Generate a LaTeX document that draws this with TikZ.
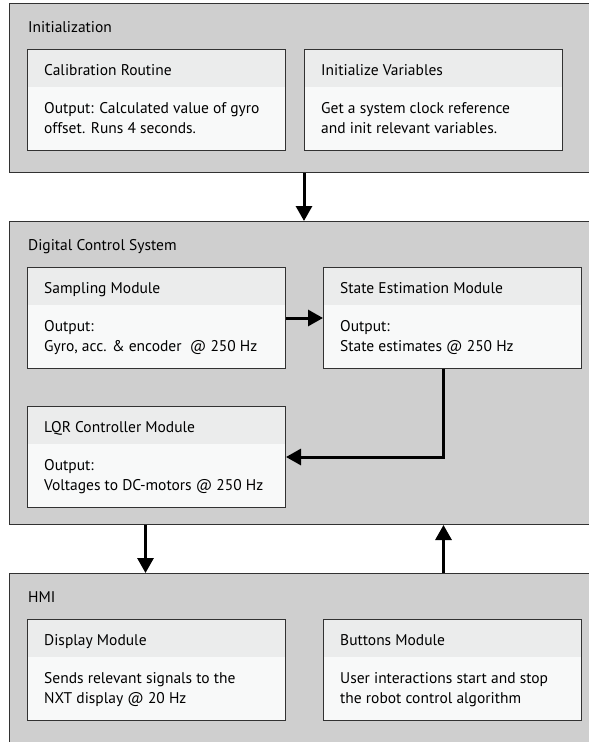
\documentclass[tikz,border=0pt]{standalone}
\usepackage{fontspec}
\setmainfont{PT Sans}
\usetikzlibrary{positioning,arrows.meta}
\definecolor{groupgray}{RGB}{207,207,207}
\definecolor{headgray}{RGB}{235,236,236}
\definecolor{bodygray}{RGB}{248,249,249}
\definecolor{framegray}{RGB}{50,50,50}
\begin{document}
\begin{tikzpicture}[x=1pt,y=1pt,>={Triangle[width=16pt,length=15pt]},
  group/.style={draw=framegray,line width=1pt,fill=groupgray,minimum width=600pt,inner sep=0pt},
  module/.style={draw=framegray,line width=1pt,fill=bodygray,minimum width=258pt,minimum height=101pt,inner sep=0pt,
    path picture={\fill[headgray] (path picture bounding box.north west) rectangle ([yshift=-37pt]path picture bounding box.north east);}},
  title/.style={anchor=base west,inner sep=0pt,font=\fontsize{15.5}{18}\selectfont},
  txt/.style={anchor=base west,inner sep=0pt,align=left,font=\fontsize{15.5}{20}\selectfont},
  flow/.style={->,line width=3pt}]
\useasboundingbox (0,0) rectangle (589,-742);

\node[group,anchor=north west,minimum height=169pt] (init) at (9,-3) {};
\node[group,below=48pt of init.south west,anchor=north west,minimum height=303pt] (dcs) {};
\node[group,below=48pt of dcs.south west,anchor=north west,minimum height=170pt] (hmi) {};

\node[title] (initT) at ([shift={(19,-29)}]init.north west) {Initialization};
\node[title] (dcsT) at ([shift={(19,-29)}]dcs.north west) {Digital Control System};
\node[title] (hmiT) at ([shift={(19,-29)}]hmi.north west) {HMI};

\node[module,below right=46pt and 18pt of init.north west] (calib) {};
\node[module,right=18pt of calib] (initvar) {};
\node[module,below right=46pt and 18pt of dcs.north west] (sampling) {};
\node[module,right=37pt of sampling] (state) {};
\node[module,below=37pt of sampling] (lqr) {};
\node[module,below right=46pt and 18pt of hmi.north west] (display) {};
\node[module,right=37pt of display] (buttons) {};

% headers sit on the first baseline, bodies on their last one
\node[txt] (calibH) at ([shift={(17,-26)}]calib.north west) {Calibration Routine};
\node[txt] (calibB) at ([shift={(17,-84)}]calib.north west) {Output: Calculated value of gyro\\offset. Runs 4 seconds.};
\node[txt] (initvarH) at ([shift={(17,-26)}]initvar.north west) {Initialize Variables};
\node[txt] (initvarB) at ([shift={(17,-84)}]initvar.north west) {Get a system clock reference\\and init relevant variables.};
\node[txt] (samplingH) at ([shift={(17,-26)}]sampling.north west) {Sampling Module};
\node[txt] (samplingB) at ([shift={(17,-84)}]sampling.north west) {Output:\\Gyro, acc. \& encoder \ @ 250 Hz};
\node[txt] (stateH) at ([shift={(17,-26)}]state.north west) {State Estimation Module};
\node[txt] (stateB) at ([shift={(17,-84)}]state.north west) {Output:\\State estimates @ 250 Hz};
\node[txt] (lqrH) at ([shift={(17,-26)}]lqr.north west) {LQR Controller Module};
\node[txt] (lqrB) at ([shift={(17,-84)}]lqr.north west) {Output:\\Voltages to DC-motors @ 250 Hz};
\node[txt] (displayH) at ([shift={(17,-26)}]display.north west) {Display Module};
\node[txt] (displayB) at ([shift={(17,-84)}]display.north west) {Sends relevant signals to the\\NXT display @ 20 Hz};
\node[txt] (buttonsH) at ([shift={(17,-26)}]buttons.north west) {Buttons Module};
\node[txt] (buttonsB) at ([shift={(17,-84)}]buttons.north west) {User interactions start and stop\\the robot control algorithm};

\coordinate (tap) at ([xshift=-9pt]state.south);
\coordinate (drop) at ([xshift=-11pt]lqr.south);

\draw[flow] (initvar.west |- init.south) -- (initvar.west |- dcs.north);
\draw[flow] (sampling) -- (state);
\draw[flow] (tap) |- (lqr.east);
\draw[flow] (drop |- dcs.south) -- (drop |- hmi.north);
\draw[flow] (tap |- hmi.north) -- (tap |- dcs.south);
\end{tikzpicture}
\end{document}
